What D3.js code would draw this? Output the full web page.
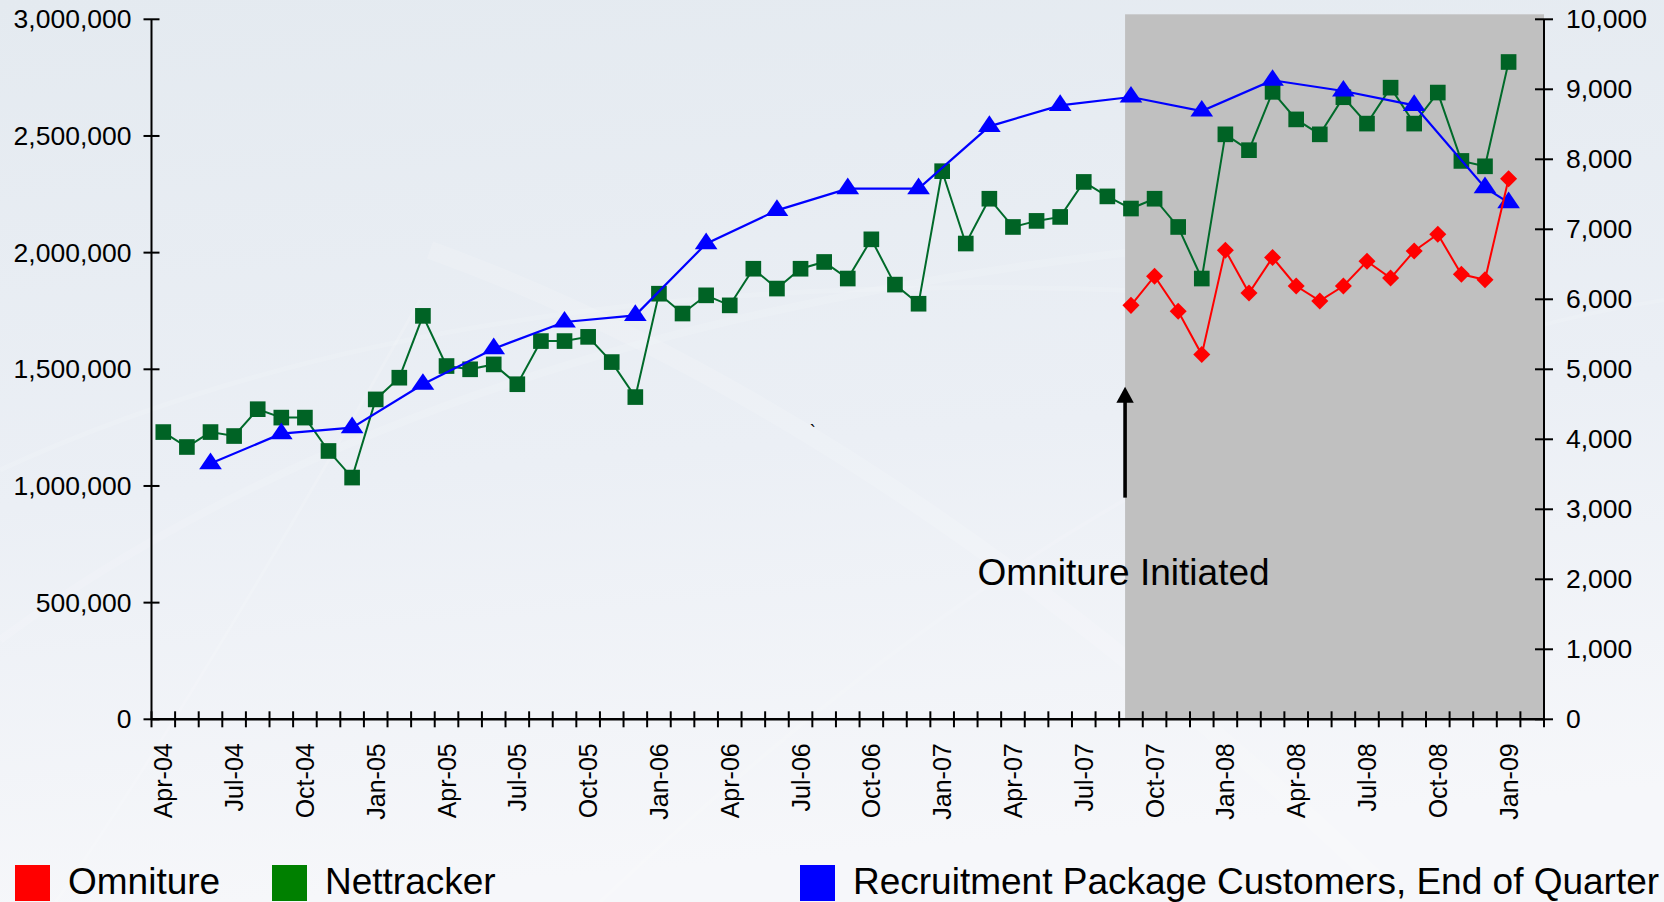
<!DOCTYPE html>
<html>
<head>
<meta charset="utf-8">
<script src="https://cdn.jsdelivr.net/npm/d3@7/dist/d3.min.js"></script>
<style>
  html, body { margin: 0; padding: 0; }
  body { width: 1664px; height: 902px; overflow: hidden; }
  text { font-family: "Liberation Sans", Arial, sans-serif; fill: #000; }
</style>
</head>
<body>
<svg id="chart" width="1664" height="902"></svg>
<script>
// ---------- DATA ----------
const months = [
  "Apr-04","May-04","Jun-04","Jul-04","Aug-04","Sep-04","Oct-04","Nov-04","Dec-04",
  "Jan-05","Feb-05","Mar-05","Apr-05","May-05","Jun-05","Jul-05","Aug-05","Sep-05","Oct-05","Nov-05","Dec-05",
  "Jan-06","Feb-06","Mar-06","Apr-06","May-06","Jun-06","Jul-06","Aug-06","Sep-06","Oct-06","Nov-06","Dec-06",
  "Jan-07","Feb-07","Mar-07","Apr-07","May-07","Jun-07","Jul-07","Aug-07","Sep-07","Oct-07","Nov-07","Dec-07",
  "Jan-08","Feb-08","Mar-08","Apr-08","May-08","Jun-08","Jul-08","Aug-08","Sep-08","Oct-08","Nov-08","Dec-08",
  "Jan-09","Feb-09"
];

const tickLabels = ["Apr-04","Jul-04","Oct-04","Jan-05","Apr-05","Jul-05","Oct-05","Jan-06","Apr-06","Jul-06",
  "Oct-06","Jan-07","Apr-07","Jul-07","Oct-07","Jan-08","Apr-08","Jul-08","Oct-08","Jan-09"];

const leftTicks = [0, 500000, 1000000, 1500000, 2000000, 2500000, 3000000];
const rightTicks = [0, 1000, 2000, 3000, 4000, 5000, 6000, 7000, 8000, 9000, 10000];

// Nettracker (left axis), Apr-04 .. Jan-09
const nettracker = [
  1231000, 1167000, 1231000, 1214000, 1329000, 1293000, 1293000, 1150000, 1036000,
  1371000, 1464000, 1729000, 1514000, 1500000, 1521000, 1436000, 1621000, 1621000, 1639000, 1531000, 1381000,
  1824000, 1739000, 1817000, 1774000, 1931000, 1846000, 1931000, 1960000, 1889000, 2057000, 1863000, 1781000,
  2349000, 2039000, 2231000, 2110000, 2136000, 2153000, 2303000, 2241000, 2189000, 2231000, 2110000, 1889000,
  2507000, 2439000, 2689000, 2571000, 2507000, 2666000, 2553000, 2707000, 2553000, 2686000, 2393000, 2370000,
  2817000
];

// Omniture (left axis), Sep-07 .. Jan-09
const omnitureMonths = ["Sep-07","Oct-07","Nov-07","Dec-07","Jan-08","Feb-08","Mar-08","Apr-08","May-08",
  "Jun-08","Jul-08","Aug-08","Sep-08","Oct-08","Nov-08","Dec-08","Jan-09"];
const omniture = [1774000, 1899000, 1749000, 1563000, 2010000, 1827000, 1979000, 1857000, 1793000,
  1857000, 1963000, 1891000, 2007000, 2079000, 1907000, 1884000, 2317000];

// Recruitment package customers, end of quarter (right axis)
const recruitMonths = ["Jun-04","Sep-04","Dec-04","Mar-05","Jun-05","Sep-05","Dec-05","Mar-06","Jun-06",
  "Sep-06","Dec-06","Mar-07","Jun-07","Sep-07","Dec-07","Mar-08","Jun-08","Sep-08","Dec-08","Jan-09"];
const recruit = [3653, 4081, 4167, 4786, 5295, 5676, 5771, 6795, 7271,
  7581, 7581, 8471, 8771, 8890, 8690, 9129, 8976, 8771, 7595, 7381];

const legendItems = ["Omniture", "Nettracker", "Recruitment Package Customers, End of Quarter"];
const shadeStart = "Sep-07";
const annotationText = "Omniture Initiated";
const arrowRange = [950000, 1425000];   // left-axis values of arrow tail / tip
const annotationLevel = 574000;          // left-axis value of text baseline

// ---------- LAYOUT ----------
const W = 1664, H = 902;
const plot = { left: 151.5, right: 1544, top: 19.3, bottom: 719.3 };
const svg = d3.select("#chart");

const defs = svg.append("defs");
const bg = defs.append("linearGradient").attr("id", "bg").attr("x1", 0).attr("y1", 0).attr("x2", 0.15).attr("y2", 1);
bg.append("stop").attr("offset", "0%").attr("stop-color", "#e4eaf0");
bg.append("stop").attr("offset", "55%").attr("stop-color", "#ebeff5");
bg.append("stop").attr("offset", "100%").attr("stop-color", "#f6f7fa");
svg.append("rect").attr("width", W).attr("height", H).attr("fill", "url(#bg)");

// faint decorative streaks of the slide background
const streaks = svg.append("g").attr("fill", "none").attr("stroke", "#ffffff");
streaks.append("path").attr("d", "M0,640 Q420,330 1150,250").attr("stroke-width", 8).attr("opacity", 0.12);
streaks.append("path").attr("d", "M0,470 Q500,240 1300,300").attr("stroke-width", 5).attr("opacity", 0.12);
streaks.append("path").attr("d", "M430,250 Q900,420 1400,902").attr("stroke-width", 18).attr("opacity", 0.14);
streaks.append("path").attr("d", "M0,980 Q150,780 420,300").attr("stroke-width", 3).attr("opacity", 0.15);
streaks.append("path").attr("d", "M600,902 Q1150,380 1664,300").attr("stroke-width", 4).attr("opacity", 0.12);

// ---------- SCALES ----------
const x = d3.scaleBand().domain(months).range([plot.left, plot.right]).padding(0);
const bw = x.bandwidth();
const cx = m => x(m) + bw / 2;
const yL = d3.scaleLinear().domain([0, 3000000]).range([plot.bottom, plot.top]);
const yR = d3.scaleLinear().domain([0, 10000]).range([plot.bottom, plot.top]);

// shaded region
svg.append("rect")
  .attr("x", x(shadeStart) + bw * 0.25)
  .attr("y", yL(3000000) - 5)
  .attr("width", plot.right - (x(shadeStart) + bw * 0.25))
  .attr("height", yL(0) - yL(3000000) + 5)
  .attr("fill", "#c0c0c0");

// ---------- AXES ----------
const axisG = svg.append("g").attr("stroke", "#000");
// left axis
axisG.append("line").attr("x1", plot.left).attr("x2", plot.left).attr("y1", yL(3000000)).attr("y2", yL(0)).attr("stroke-width", 2);
axisG.selectAll(".lt").data(leftTicks).enter().append("line")
  .attr("x1", plot.left - 8).attr("x2", plot.left + 8).attr("y1", d => yL(d)).attr("y2", d => yL(d)).attr("stroke-width", 2);
svg.append("g").selectAll("text").data(leftTicks).enter().append("text")
  .attr("x", plot.left - 20).attr("y", d => yL(d)).attr("dy", "0.34em")
  .attr("text-anchor", "end").style("font-size", "26.5px").text(d3.format(","));
// right axis
axisG.append("line").attr("x1", plot.right).attr("x2", plot.right).attr("y1", yR(10000)).attr("y2", yR(0)).attr("stroke-width", 2);
axisG.selectAll(".rt").data(rightTicks).enter().append("line")
  .attr("x1", plot.right - 9).attr("x2", plot.right + 9).attr("y1", d => yR(d)).attr("y2", d => yR(d)).attr("stroke-width", 2);
svg.append("g").selectAll("text").data(rightTicks).enter().append("text")
  .attr("x", plot.right + 22).attr("y", d => yR(d)).attr("dy", "0.34em")
  .attr("text-anchor", "start").style("font-size", "26.5px").text(d3.format(","));
// bottom axis
axisG.append("line").attr("x1", plot.left).attr("x2", plot.right).attr("y1", plot.bottom).attr("y2", plot.bottom).attr("stroke-width", 2.5);
const boundaries = months.map(m => x(m)).concat([plot.right]);
axisG.selectAll(".xt").data(boundaries).enter().append("line")
  .attr("x1", d => d).attr("x2", d => d).attr("y1", plot.bottom - 8).attr("y2", plot.bottom + 8).attr("stroke-width", 2);
svg.append("g").selectAll("text").data(tickLabels).enter().append("text")
  .attr("transform", d => `translate(${cx(d)},${plot.bottom + 24}) rotate(-90)`)
  .attr("dy", "0.36em").attr("text-anchor", "end").style("font-size", "25px").text(d => d);

// ---------- SERIES ----------
// Nettracker
const netPts = nettracker.map((v, i) => ({ m: months[i], v }));
const lineL = d3.line().x(d => cx(d.m)).y(d => yL(d.v));
svg.append("path").datum(netPts).attr("d", lineL).attr("fill", "none").attr("stroke", "#006a2a").attr("stroke-width", 2);
svg.append("g").selectAll("path").data(netPts).enter().append("path")
  .attr("transform", d => `translate(${cx(d.m)},${yL(d.v)})`)
  .attr("d", d3.symbol().type(d3.symbolSquare).size(245))
  .attr("fill", "#006325");

// Recruitment (blue, right axis)
const recPts = recruit.map((v, i) => ({ m: recruitMonths[i], v }));
const lineR = d3.line().x(d => cx(d.m)).y(d => yR(d.v));
svg.append("path").datum(recPts).attr("d", lineR).attr("fill", "none").attr("stroke", "#0000ff").attr("stroke-width", 2.2);
svg.append("g").selectAll("path").data(recPts).enter().append("path")
  .attr("transform", d => `translate(${cx(d.m)},${yR(d.v)}) scale(1.18,1)`)
  .attr("d", d3.symbol().type(d3.symbolTriangle).size(160))
  .attr("fill", "#0000ff");

// Omniture (red, left axis)
const omPts = omniture.map((v, i) => ({ m: omnitureMonths[i], v }));
svg.append("path").datum(omPts).attr("d", lineL).attr("fill", "none").attr("stroke", "#ff0000").attr("stroke-width", 2);
svg.append("g").selectAll("path").data(omPts).enter().append("path")
  .attr("transform", d => `translate(${cx(d.m)},${yL(d.v)}) rotate(45)`)
  .attr("d", d3.symbol().type(d3.symbolSquare).size(145))
  .attr("fill", "#ff0000");

// ---------- ANNOTATION ----------
const ax = x(shadeStart) + bw * 0.25;
svg.append("line").attr("x1", ax).attr("x2", ax)
  .attr("y1", yL(arrowRange[0])).attr("y2", yL(arrowRange[1]) + 14)
  .attr("stroke", "#000").attr("stroke-width", 3.6);
const tipY = yL(arrowRange[1]);
svg.append("path")
  .attr("d", `M${ax},${tipY} L${ax - 8.7},${tipY + 16} L${ax + 8.7},${tipY + 16} Z`)
  .attr("fill", "#000");
svg.append("text").attr("x", ax - 1.5).attr("y", yL(annotationLevel))
  .attr("text-anchor", "middle").style("font-size", "37px").text(annotationText);
// stray tick mark present in the original
svg.append("text").attr("x", cx("Sep-06") - 38).attr("y", yL(1205000)).style("font-size", "18px").text("`");

// ---------- LEGEND ----------
const legendColors = ["#ff0000", "#008000", "#0000ff"];
const legendX = [15, 272, 800];
const lg = svg.append("g");
legendItems.forEach((name, i) => {
  lg.append("rect").attr("x", legendX[i]).attr("y", 865).attr("width", 35).attr("height", 36).attr("fill", legendColors[i]);
  lg.append("text").attr("x", legendX[i] + 53).attr("y", 894).style("font-size", "37px").text(name);
});
</script>
</body>
</html>
